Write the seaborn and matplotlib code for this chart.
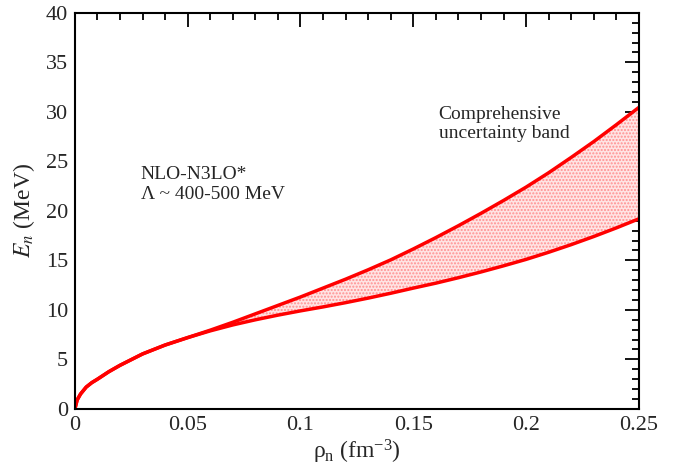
import numpy as np
import pandas as pd
import matplotlib
matplotlib.use("Agg")
import matplotlib.pyplot as plt
import seaborn as sns
from matplotlib.ticker import MultipleLocator

rho = [0, 0.001, 0.0025, 0.005, 0.0075, 0.01, 0.015, 0.02, 0.03, 0.04, 0.05,
       0.06, 0.07, 0.08, 0.09, 0.1, 0.11, 0.12, 0.13, 0.14, 0.15, 0.16, 0.17,
       0.18, 0.19, 0.2, 0.21, 0.22, 0.23, 0.24, 0.25]
lower = [0, 0.9, 1.5, 2.2, 2.65, 3.0, 3.75, 4.4, 5.55, 6.45, 7.2,
         7.88, 8.48, 9.00, 9.47, 9.90, 10.30, 10.73, 11.19, 11.68, 12.20,
         12.70, 13.25, 13.83, 14.45, 15.10, 15.82, 16.59, 17.41, 18.28, 19.20]
upper = [0, 0.9, 1.5, 2.2, 2.65, 3.0, 3.75, 4.4, 5.55, 6.45, 7.2,
         7.95, 8.75, 9.6, 10.45, 11.3, 12.2, 13.1, 14.05, 15.05, 16.15,
         17.3, 18.5, 19.75, 21.05, 22.4, 23.85, 25.4, 27.0, 28.7, 30.45]

sns.set_theme(style="white")
plt.rcParams['font.family'] = ['Liberation Serif', 'DejaVu Serif']
plt.rcParams['mathtext.fontset'] = 'stix'
plt.rcParams['hatch.linewidth'] = 1.0

df = pd.DataFrame({"rho": rho, "lower": lower, "upper": upper})

fig = plt.figure(figsize=(6.87, 4.76), dpi=100)
ax = fig.add_axes([0.109, 0.141, 0.821, 0.832])

ax.fill_between(df["rho"], df["lower"], df["upper"], facecolor="#ffe4e4",
                edgecolor="#ff9090", hatch=".....", linewidth=0)
sns.lineplot(data=df, x="rho", y="lower", color="red", lw=2.5, ax=ax)
sns.lineplot(data=df, x="rho", y="upper", color="red", lw=2.5, ax=ax)

ax.set_xlim(0, 0.25)
ax.set_ylim(0, 40)
ax.xaxis.set_major_locator(MultipleLocator(0.05))
ax.xaxis.set_minor_locator(MultipleLocator(0.01))
ax.yaxis.set_major_locator(MultipleLocator(5))
ax.yaxis.set_minor_locator(MultipleLocator(1))
ax.set_xticks([0, 0.05, 0.1, 0.15, 0.2, 0.25])
ax.set_xticklabels(["0", "0.05", "0.1", "0.15", "0.2", "0.25"])
ax.tick_params(which="both", direction="in", top=True, right=True,
               labelsize=16, color="black", width=1.3, pad=5)
ax.tick_params(which="major", length=10)
ax.tick_params(which="minor", length=5)
for s in ax.spines.values():
    s.set_color("black")
    s.set_linewidth(1.5)

ax.set_xlabel(r"$\mathregular{\rho_n\ (fm^{-3})}$", fontsize=17, labelpad=2)
ax.set_ylabel(r"$E_n$ (MeV)", fontsize=17, labelpad=6)

ax.text(0.0292, 24.5, "NLO-N3LO*\nΛ ~ 400-500 MeV", fontsize=14,
        ha="left", va="top", linespacing=1.24)
ax.text(0.1612, 30.55, "Comprehensive\nuncertainty band", fontsize=14,
        ha="left", va="top", linespacing=1.09, multialignment="left")

fig.savefig("out.png", dpi=100)
